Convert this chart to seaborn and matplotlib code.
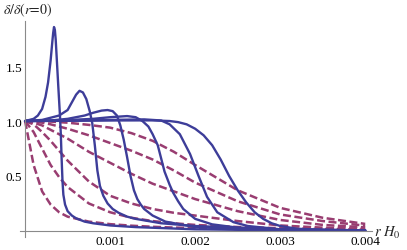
import matplotlib
matplotlib.use("Agg")
import matplotlib.pyplot as plt
from matplotlib.ticker import MultipleLocator, FixedLocator
import numpy as np
import pandas as pd
import seaborn as sns

# solid curves (r, delta/delta0)
s1_r = [0, 0.0001, 0.00015, 0.0002, 0.00024, 0.00027, 0.0003, 0.00032, 0.00033, 0.00034, 0.00035,
        0.00036, 0.00037, 0.00039, 0.00041, 0.00042, 0.00043, 0.00044, 0.00045, 0.00047, 0.0005,
        0.00055, 0.0006, 0.0007, 0.0008, 0.001, 0.0013, 0.002, 0.003, 0.004]
s1_v = [1.0, 1.02, 1.05, 1.11, 1.22, 1.35, 1.55, 1.72, 1.8, 1.855, 1.83,
        1.74, 1.6, 1.32, 1.05, 0.88, 0.65, 0.45, 0.33, 0.24, 0.18,
        0.14, 0.115, 0.085, 0.07, 0.05, 0.035, 0.015, 0.006, 0.003]

s2_r = [0, 0.0002, 0.0004, 0.0005, 0.00055, 0.0006, 0.00064, 0.00068, 0.00072, 0.00076, 0.00079,
        0.00082, 0.00085, 0.00088, 0.00092, 0.00097, 0.00103, 0.0011, 0.0012, 0.0013, 0.0016,
        0.002, 0.003, 0.004]
s2_v = [1.0, 1.01, 1.05, 1.1, 1.17, 1.24, 1.275, 1.26, 1.2, 1.09, 0.98,
        0.78, 0.55, 0.41, 0.32, 0.25, 0.2, 0.165, 0.13, 0.11, 0.07,
        0.045, 0.015, 0.006]

s3_r = [0, 0.0003, 0.0005, 0.0007, 0.0008, 0.0009, 0.00097, 0.00103, 0.00108, 0.00112, 0.00116,
        0.0012, 0.00124, 0.00128, 0.00132, 0.00136, 0.0014, 0.0015, 0.00165, 0.002, 0.0025,
        0.003, 0.004]
s3_v = [1.0, 1.005, 1.02, 1.05, 1.075, 1.095, 1.10, 1.09, 1.05, 0.96, 0.83,
        0.67, 0.5, 0.37, 0.29, 0.24, 0.2, 0.14, 0.085, 0.035, 0.018,
        0.01, 0.004]

s4_r = [0, 0.0004, 0.0008, 0.001, 0.0012, 0.0013, 0.00138, 0.00145, 0.0015, 0.00156, 0.0016,
        0.00164, 0.0017, 0.00174, 0.0018, 0.00186, 0.002, 0.0022, 0.0025, 0.003, 0.004]
s4_v = [1.0, 1.005, 1.02, 1.035, 1.045, 1.035, 1.0, 0.95, 0.88, 0.78, 0.66,
        0.54, 0.42, 0.35, 0.27, 0.2, 0.11, 0.06, 0.03, 0.012, 0.004]

s5_r = [0, 0.0005, 0.001, 0.0014, 0.0016, 0.0017, 0.00182, 0.00194, 0.00204, 0.00214, 0.00226,
        0.00245, 0.00262, 0.003, 0.004]
s5_v = [1.0, 1.003, 1.01, 1.015, 1.005, 0.97, 0.88, 0.7, 0.5, 0.31, 0.17,
        0.08, 0.045, 0.015, 0.004]

s6_r = [0, 0.0005, 0.001, 0.0015, 0.0017, 0.0018, 0.0019, 0.002, 0.0021, 0.0022, 0.0023,
        0.0024, 0.0025, 0.0026, 0.0027, 0.0028, 0.0029, 0.003, 0.0032, 0.0035, 0.004]
s6_v = [1.0, 1.002, 1.005, 1.006, 1.0, 0.99, 0.97, 0.93, 0.87, 0.78, 0.65,
        0.5, 0.37, 0.26, 0.17, 0.11, 0.07, 0.045, 0.02, 0.01, 0.004]

# dashed curves share one r grid
d_r = [0, 0.0001, 0.0002, 0.0003, 0.0004, 0.0005, 0.00075, 0.001, 0.00125, 0.0015, 0.00175,
       0.002, 0.0025, 0.003, 0.0035, 0.004]
d1_v = [1.0, 0.60, 0.36, 0.24, 0.17, 0.13, 0.085, 0.062, 0.048, 0.038, 0.031, 0.026, 0.018, 0.013, 0.009, 0.006]
d2_v = [1.0, 0.90, 0.75, 0.60, 0.49, 0.40, 0.25, 0.17, 0.12, 0.09, 0.07, 0.055, 0.036, 0.025, 0.018, 0.012]
d3_v = [1.0, 0.97, 0.90, 0.82, 0.73, 0.64, 0.45, 0.32, 0.25, 0.20, 0.165, 0.14, 0.09, 0.05, 0.03, 0.02]
d4_v = [1.0, 0.985, 0.96, 0.92, 0.88, 0.84, 0.72, 0.62, 0.52, 0.43, 0.36, 0.29, 0.18, 0.10, 0.055, 0.033]
d5_v = [1.0, 0.995, 0.985, 0.97, 0.95, 0.93, 0.87, 0.80, 0.73, 0.65, 0.55, 0.44, 0.27, 0.15, 0.09, 0.048]
d6_v = [1.0, 1.0, 1.0, 0.995, 0.99, 0.985, 0.965, 0.94, 0.89, 0.82, 0.72, 0.60, 0.37, 0.21, 0.12, 0.064]

solid = [(s1_r, s1_v), (s2_r, s2_v), (s3_r, s3_v), (s4_r, s4_v), (s5_r, s5_v), (s6_r, s6_v)]
dashed = [d1_v, d2_v, d3_v, d4_v, d5_v, d6_v]

rows = []
for i, v in enumerate(dashed):
    for r, y in zip(d_r, v):
        rows.append(("d%d" % i, "dashed", r, y))
for i, (rr, v) in enumerate(solid):
    for r, y in zip(rr, v):
        rows.append(("s%d" % i, "solid", r, y))
df = pd.DataFrame(rows, columns=["curve", "kind", "r", "v"])

sns.set_style("white")
plt.rcParams['font.family'] = ['Liberation Serif', 'DejaVu Serif']
plt.rcParams['mathtext.fontset'] = 'stix'

blue = "#3d3d99"
purple = "#993d71"

fig = plt.figure(figsize=(4.07, 2.51), dpi=100)
ax = fig.add_axes([20 / 407, 13 / 251, 352 / 407, 216 / 251])

sns.lineplot(data=df[df.kind == "dashed"], x="r", y="v", units="curve", estimator=None,
             color=purple, lw=1.8, ax=ax, legend=False)
for ln in ax.lines:
    ln.set_dashes((3.2, 1.4))
sns.lineplot(data=df[df.kind == "solid"], x="r", y="v", units="curve", estimator=None,
             color=blue, lw=1.7, ax=ax, legend=False, solid_joinstyle="round")

ax.set_xlim(-0.00006, 0.00408)
ax.set_ylim(-0.055, 1.91)
ax.set_xlabel("")
ax.set_ylabel("")

for side in ["top", "right"]:
    ax.spines[side].set_visible(False)
for side in ["left", "bottom"]:
    ax.spines[side].set_position(("data", 0))
    ax.spines[side].set_color("#8a8a8a")
    ax.spines[side].set_linewidth(0.8)

ax.xaxis.set_major_locator(FixedLocator([0.001, 0.002, 0.003, 0.004]))
ax.xaxis.set_minor_locator(MultipleLocator(0.0002))
ax.yaxis.set_major_locator(FixedLocator([0.5, 1.0, 1.5]))
ax.yaxis.set_minor_locator(MultipleLocator(0.1))
ax.set_xticklabels(["0.001", "0.002", "0.003", "0.004"])
ax.set_yticklabels(["0.5", "1.0", "1.5"])
ax.tick_params(which="both", direction="in", color="#8a8a8a", width=0.6, labelsize=9.5,
               labelcolor="black")
ax.tick_params(which="major", length=4.5)
ax.tick_params(which="minor", length=2.5)
ax.tick_params(axis="x", pad=3)
ax.tick_params(axis="y", pad=2)

fig.text(3 / 407, 1 - 10 / 251, r"$\delta/\delta(r\!=\!0)$", fontsize=10, va="center", ha="left")
fig.text(374 / 407, 1 - 233 / 251, r"$r\ H_0$", fontsize=10.5, va="center", ha="left")

fig.savefig("out.png", dpi=100)
